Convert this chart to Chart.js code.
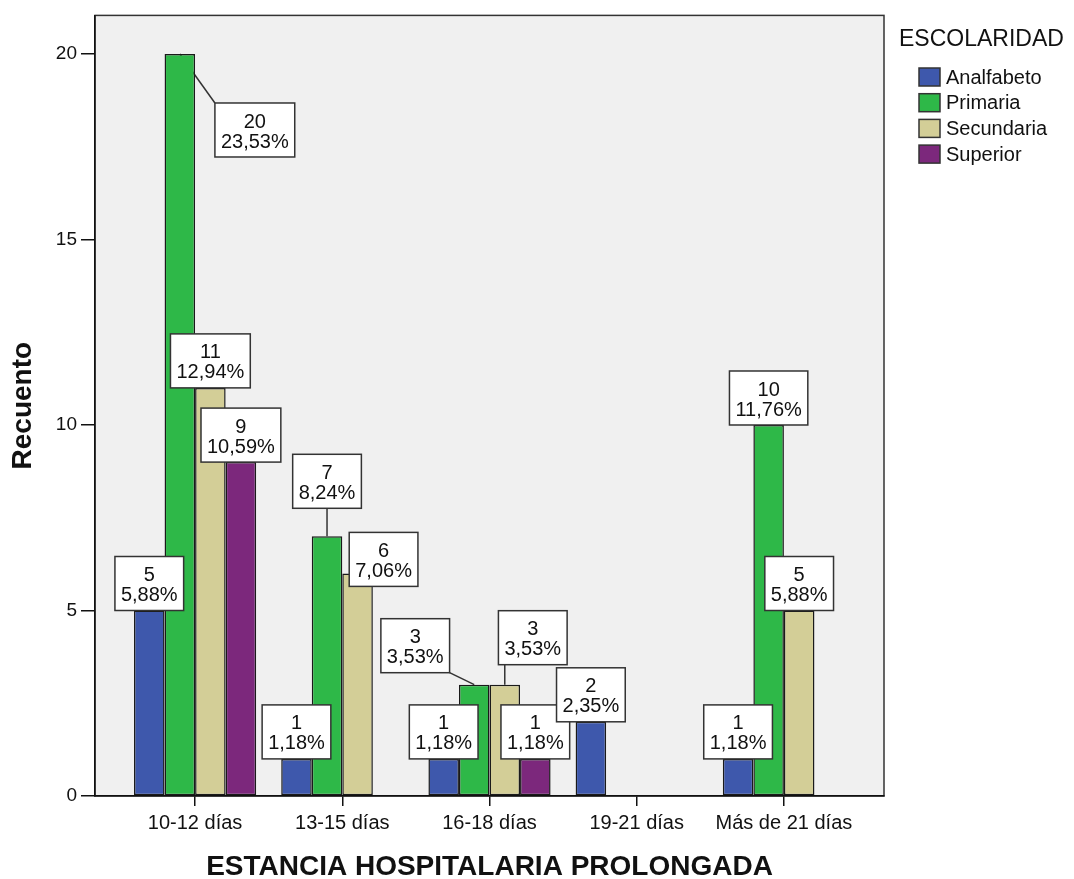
<!DOCTYPE html>
<html lang="es">
<head>
<meta charset="UTF-8">
<title>Estancia hospitalaria prolongada</title>
<script src="https://cdn.jsdelivr.net/npm/chart.js"></script>
<style>
  html, body { margin: 0; padding: 0; background: #fff; }
</style>
</head>
<body>
<canvas id="myChart" width="1074" height="879"></canvas>
<script>
const categories = ['10-12 días', '13-15 días', '16-18 días', '19-21 días', 'Más de 21 días'];
const analfabeto = [5, 1, 1, 2, 1];
const primaria = [20, 7, 3, 0, 10];
const secundaria = [11, 6, 3, 0, 5];
const superior = [9, 0, 1, 0, 0];
const yTicks = [0, 5, 10, 15, 20];

const FONT = '"Liberation Sans", Arial, sans-serif';
const total = [analfabeto, primaria, secundaria, superior].flat().reduce((a, b) => a + b, 0);

// labels SPSS pushed away from their bar: [dx, dy] px, key = dataset-index
const labelShift = {
    '1-0': [75, 103],
    '1-1': [0, -28],
    '2-1': [26, 13],
    '1-2': [-59, -12],
    '2-2': [28, -20]
};

function toPoints(arr) {
    return arr.map((v, i) => ({ x: i, y: v }));
}

function labelBoxes(chart) {
    const ctx = chart.ctx;
    ctx.font = '20px ' + FONT;
    const out = [];
    const sets = chart.data.datasets;
    // category by category, so later groups sit on top
    categories.forEach((c, i) => {
        sets.forEach((ds, di) => {
            const bar = chart.getDatasetMeta(di).data[i];
            const v = ds.data[i].y;
            if (!v) return;
            const pct = (v / total * 100).toFixed(2).replace('.', ',') + '%';
            const w = Math.max(ctx.measureText(String(v)).width, ctx.measureText(pct).width) + 12;
            const h = 54;
            const s = labelShift[di + '-' + i] || [0, 0];
            const cx = bar.x + s[0];
            const bottom = bar.y + s[1];
            out.push({ v: v, pct: pct, x: cx - w / 2, y: bottom - h, w: w, h: h, ax: bar.x, ay: bar.y, cx: cx });
        });
    });
    return out;
}

const framePlugin = {
    id: 'frame',
    beforeDraw(chart) {
        const { ctx, chartArea: a } = chart;
        ctx.save();
        ctx.fillStyle = '#f0f0f0';
        ctx.fillRect(a.left, a.top, a.right - a.left, a.bottom - a.top);
        ctx.strokeStyle = '#333';
        ctx.lineWidth = 1.5;
        ctx.strokeRect(a.left, a.top, a.right - a.left, a.bottom - a.top);
        ctx.restore();
    }
};

const labelPlugin = {
    id: 'barLabels',
    beforeDatasetsDraw(chart) {
        // leader lines go under the bars
        const ctx = chart.ctx;
        ctx.save();
        ctx.strokeStyle = '#333';
        ctx.lineWidth = 1.5;
        labelBoxes(chart).forEach(b => {
            const px = Math.min(Math.max(b.ax, b.x), b.x + b.w);
            const py = Math.min(Math.max(b.ay, b.y), b.y + b.h);
            if (Math.hypot(px - b.ax, py - b.ay) < 2) return;
            ctx.beginPath();
            ctx.moveTo(b.ax, b.ay);
            ctx.lineTo(px, py);
            ctx.stroke();
        });
        ctx.restore();
    },
    afterDatasetsDraw(chart) {
        const ctx = chart.ctx;
        ctx.save();
        labelBoxes(chart).forEach(b => {
            ctx.fillStyle = '#fff';
            ctx.fillRect(b.x, b.y, b.w, b.h);
            ctx.strokeStyle = '#333';
            ctx.lineWidth = 1.5;
            ctx.strokeRect(b.x, b.y, b.w, b.h);
            ctx.fillStyle = '#111';
            ctx.font = '20px ' + FONT;
            ctx.textAlign = 'center';
            ctx.textBaseline = 'middle';
            ctx.fillText(String(b.v), b.cx, b.y + 19);
            ctx.fillText(b.pct, b.cx, b.y + 39);
        });
        ctx.restore();
    }
};

const legendPlugin = {
    id: 'sideLegend',
    afterDraw(chart) {
        const ctx = chart.ctx;
        const x0 = chart.chartArea.right + 15;
        ctx.save();
        ctx.fillStyle = '#111';
        ctx.textAlign = 'left';
        ctx.textBaseline = 'middle';
        ctx.font = '23px ' + FONT;
        ctx.fillText('ESCOLARIDAD', x0, 40);
        ctx.font = '20px ' + FONT;
        chart.data.datasets.forEach((ds, i) => {
            const y = 77 + i * 25.7;
            ctx.fillStyle = ds.backgroundColor;
            ctx.fillRect(x0 + 20, y - 9, 21, 18);
            ctx.strokeStyle = '#333';
            ctx.lineWidth = 1.5;
            ctx.strokeRect(x0 + 20, y - 9, 21, 18);
            ctx.fillStyle = '#111';
            ctx.fillText(ds.label, x0 + 47, y + 1);
        });
        ctx.restore();
    }
};

const ctx = document.getElementById('myChart').getContext('2d');
const myChart = new Chart(ctx, {
    type: 'bar',
    data: {
        datasets: [{
            label: 'Analfabeto',
            data: toPoints(analfabeto),
            backgroundColor: '#3e58ac'
        }, {
            label: 'Primaria',
            data: toPoints(primaria),
            backgroundColor: '#2eb848'
        }, {
            label: 'Secundaria',
            data: toPoints(secundaria),
            backgroundColor: '#d3ce97'
        }, {
            label: 'Superior',
            data: toPoints(superior),
            backgroundColor: '#7c287c'
        }]
    },
    options: {
        responsive: false,
        animation: false,
        layout: { padding: { top: 14, right: 190, bottom: 0, left: 0 } },
        datasets: {
            bar: {
                borderColor: '#1a1a1a',
                borderWidth: 1.5,
                borderSkipped: false,
                categoryPercentage: 0.83,
                barPercentage: 1
            }
        },
        plugins: {
            legend: { display: false },
            tooltip: { enabled: false }
        },
        scales: {
            x: {
                type: 'linear',
                offset: false,
                min: -0.68,
                max: 4.68,
                afterBuildTicks: s => { s.ticks = categories.map((c, i) => ({ value: i })); },
                afterFit: s => { s.height = 83; },
                ticks: {
                    callback: v => categories[v],
                    font: { size: 20, family: FONT },
                    color: '#111',
                    padding: 5,
                    maxRotation: 0,
                    autoSkip: false
                },
                grid: { offset: false, drawOnChartArea: false, tickLength: 10, color: '#111', lineWidth: 1.5 },
                border: { color: '#111', width: 1.5 },
                title: {
                    display: true,
                    text: 'ESTANCIA HOSPITALARIA PROLONGADA',
                    font: { size: 28, weight: 'bold', family: FONT, lineHeight: 0.86 },
                    color: '#111',
                    padding: 0
                }
            },
            y: {
                min: 0,
                max: 21.04,
                afterBuildTicks: s => { s.ticks = yTicks.map(v => ({ value: v })); },
                afterFit: s => { s.width = 95; },
                ticks: { font: { size: 19, family: FONT }, color: '#111', padding: 4 },
                grid: { drawOnChartArea: false, tickLength: 14, color: '#111', lineWidth: 1.5 },
                border: { color: '#111', width: 1.5 },
                title: {
                    display: true,
                    text: 'Recuento',
                    font: { size: 28, weight: 'bold', family: FONT },
                    color: '#111',
                    padding: { top: 6 }
                }
            }
        }
    },
    plugins: [framePlugin, labelPlugin, legendPlugin]
});
</script>
</body>
</html>
